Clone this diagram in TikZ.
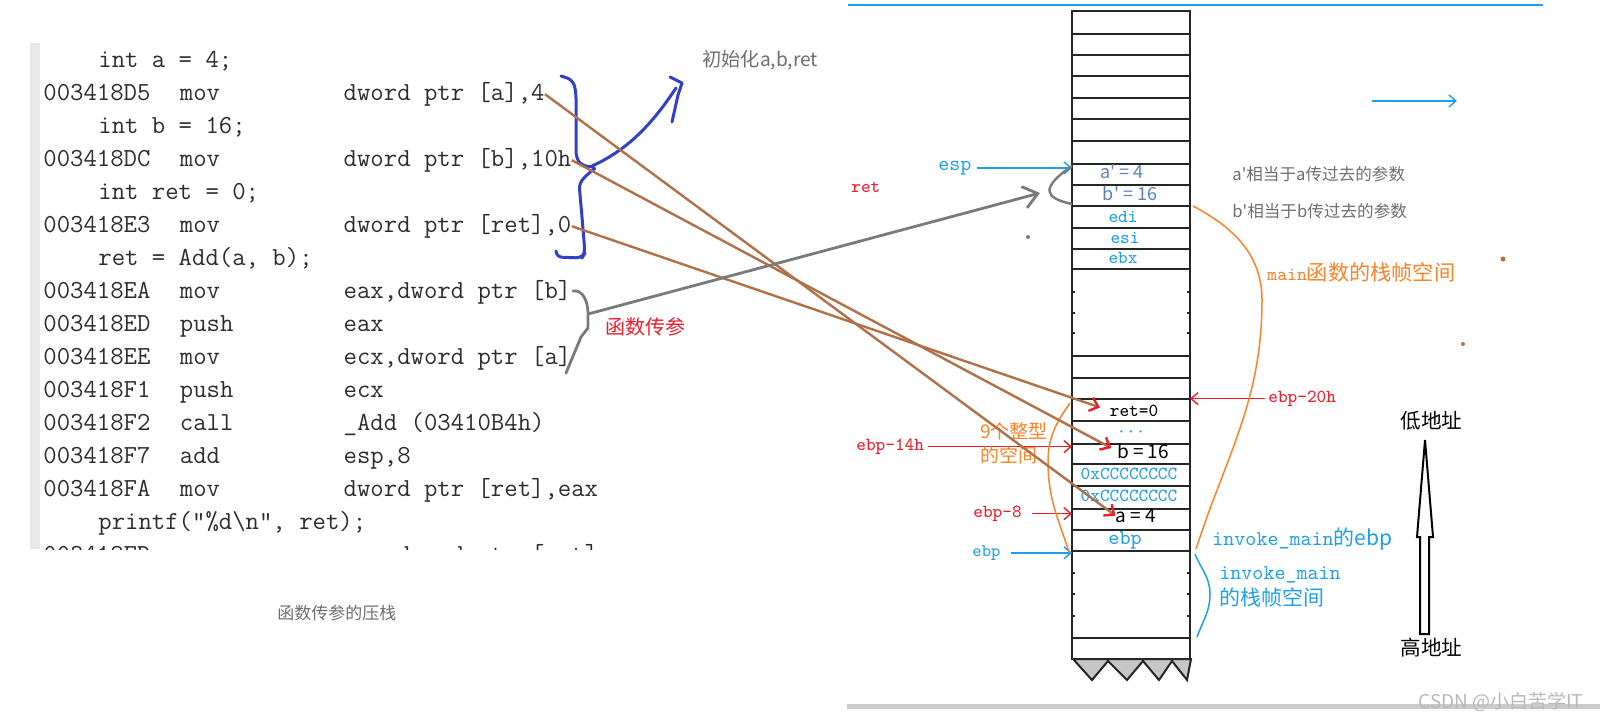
\documentclass[tikz,border=0pt]{standalone}
\usepackage{fontspec}
\newfontfamily\cjk{Noto Sans CJK SC}
\usetikzlibrary{arrows.meta}
\definecolor{cyanb}{RGB}{30,160,230}
\definecolor{steelb}{RGB}{90,130,190}
\definecolor{redl}{RGB}{235,30,40}
\definecolor{orangel}{RGB}{250,130,40}
\definecolor{brownl}{RGB}{176,112,72}
\definecolor{grayl}{RGB}{122,122,122}
\definecolor{penblue}{RGB}{50,64,200}
\definecolor{notegray}{RGB}{110,110,110}
\definecolor{codegray}{RGB}{45,45,45}
\tikzset{
  code/.style={anchor=mid west,inner sep=0pt,text=codegray,font=\ttfamily\fontsize{13}{15}\selectfont},
  cell/.style={inner sep=0pt,anchor=mid,font=\ttfamily\fontsize{9.2}{11}\selectfont},
  lbl/.style={inner sep=0pt,anchor=mid west,font=\ttfamily\fontsize{9.2}{11}\selectfont},
  note/.style={inner sep=0pt,anchor=mid west,text=notegray,font=\cjk\fontsize{8.3}{10}\selectfont},
  ptr/.style={line width=.7pt,-{Straight Barb[length=3.5pt,width=6pt]}},
  load/.style={draw=brownl,line width=1.2pt,-{Straight Barb[color=redl,length=4pt,width=7pt]}},
  pen/.style={draw=penblue,line width=1.5pt,line cap=round,line join=round},
  stk/.style={draw=black!85,line width=1pt}
}
\newcommand\asmrow[3]{\makebox[5.25em][l]{#1}\makebox[6.3em][l]{#2}#3}
\begin{document}
\begin{tikzpicture}[x=0.5pt,y=-0.5pt]
\useasboundingbox (0,0) rectangle (1600,722);
\fill[gray!18] (30,43) rectangle (40,549);
\node[code] (s0) at (98,63) {int a = 4;};
\node[code] (l1) at (43,96) {\asmrow{003418D5}{mov}{dword ptr [a],4}};
\node[code] (s1) at (98,129) {int b = 16;};
\node[code] (l3) at (43,162) {\asmrow{003418DC}{mov}{dword ptr [b],10h}};
\node[code] (s2) at (98,195) {int ret = 0;};
\node[code] (l5) at (43,228) {\asmrow{003418E3}{mov}{dword ptr [ret],0}};
\node[code] (s3) at (98,261) {ret = Add(a, b);};
\node[code] (l7) at (43,294) {\asmrow{003418EA}{mov}{eax,dword ptr [b]}};
\node[code] (l8) at (43,327) {\asmrow{003418ED}{push}{eax}};
\node[code] (l9) at (43,360) {\asmrow{003418EE}{mov}{ecx,dword ptr [a]}};
\node[code] (l10) at (43,393) {\asmrow{003418F1}{push}{ecx}};
\node[code] (l11) at (43,426) {\asmrow{003418F2}{call}{\_Add (03410B4h)}};
\node[code] (l12) at (43,459) {\asmrow{003418F7}{add}{esp,8}};
\node[code] (l13) at (43,492) {\asmrow{003418FA}{mov}{dword ptr [ret],eax}};
\node[code] (s4) at (98,525) {printf("\%d\textbackslash n", ret);};
\begin{scope}
\clip (40,541) rectangle (620,549);
\node[code] (l15) at (43,558) {\asmrow{003418FD}{mov}{eax,dword ptr [ret]}};
\end{scope}
\node[note,font=\cjk\fontsize{9.6}{11}\selectfont] (init) at (702,62) {初始化a,b,ret};
\node[note,text=redl,font=\cjk\fontsize{10}{12}\selectfont] (pass) at (605,330) {函数传参};
\node[note,font=\cjk\fontsize{8.5}{10}\selectfont] (cap) at (277,615) {函数传参的压栈};
\draw[pen,rounded corners=3pt] (561,76) -- (573,80) -- (576,92) -- (576,158) -- (582,166) -- (597,167) -- (590,172) -- (579,183) -- (582,217) -- (585,253) -- (582,258) -- (556,257) -- (556,252);
\draw[pen] (592,166) .. controls (632,148) and (656,118) .. (676,88);
\draw[pen] (670,77) -- (682,83) -- (678,95) -- (672,122);
\draw[cyanb,line width=.8pt] (848,5) -- (1543,5);
\draw[gray!40,line width=2.5pt] (847,706) -- (1600,706);
\draw[stk,fill=white] (1072,11) rectangle (1190,659);
\foreach \y in {34,55,76,98,119,141,164,185,206,228,249,269,356,378,399,421,444,464,486,509,530,551,638}
  \draw[stk] (1072,\y) -- (1190,\y);
\foreach \y in {292,313,333,573,594,616} {
  \draw[stk,line width=.6pt] (1072,\y) -- +(3,0);
  \draw[stk,line width=.6pt] (1190,\y) -- +(-3,0);
}
\filldraw[fill=gray!45,stk] (1073,659) -- (1092,680) -- (1108,661) -- (1127,680) -- (1143,661) -- (1159,680) -- (1172,661) -- (1187,680) -- (1191,659) -- cycle;
\coordinate (sl) at (1072,0);
\coordinate (sr) at (1190,0);
\node[cell,text=steelb,font=\cjk\fontsize{9}{11}\selectfont] (ap) at (1122,174) {a\textquotesingle{} = 4};
\node[cell,text=steelb,font=\cjk\fontsize{9}{11}\selectfont] (bp) at (1130,196) {b\textquotesingle{} = 16};
\node[cell,text=cyanb] (edi) at (1123,218) {edi};
\node[cell,text=cyanb] (esi) at (1125,239) {esi};
\node[cell,text=cyanb] (ebx) at (1123,259) {ebx};
\node[cell] (retv) at (1134,412) {ret=0};
\node[cell,text=cyanb] (dots) at (1131,433) {···};
\node[cell,font=\cjk\fontsize{9.5}{11}\selectfont] (bv) at (1143,454) {b = 16};
\node[cell,text=cyanb] (cc1) at (1129,475) {0xCCCCCCCC};
\node[cell,text=cyanb] (cc2) at (1129,497) {0xCCCCCCCC};
\node[cell,font=\cjk\fontsize{9.5}{11}\selectfont] (av) at (1136,518) {a = 4};
\node[cell,text=cyanb,font=\ttfamily\fontsize{10.5}{12}\selectfont] (ebpv) at (1125,540) {ebp};
\node[lbl,text=cyanb,font=\ttfamily\fontsize{10.5}{12}\selectfont] (esp) at (938,166) {esp};
\node[lbl,text=redl] (ret) at (851,188) {ret};
\node[lbl,text=redl] (e14) at (856,446) {ebp-14h};
\node[lbl,text=redl] (e8) at (973,513) {ebp-8};
\node[lbl,text=cyanb,font=\ttfamily\fontsize{8.9}{11}\selectfont] (ebpl) at (972,552) {ebp};
\node[lbl,text=redl] (e20) at (1268,398) {ebp-20h};
\draw[ptr,cyanb] (esp.east) ++(5,0) -- (esp.east -| sl);
\draw[ptr,redl] (e14.east) ++(4,0) -- (e14.east -| sl);
\draw[ptr,redl] (e8.east) ++(10,0) -- (e8.east -| sl);
\draw[ptr,cyanb] (ebpl.east) ++(10,0) -- (ebpl.east -| sl);
\draw[ptr,redl] (e20.west) ++(-3,0) -- (e20.west -| sr);
\node[note,text=orangel,font=\cjk\fontsize{9.5}{11}\selectfont] (nine) at (980,434) {9个整型};
\node[note,text=orangel,font=\cjk\fontsize{9.5}{11}\selectfont] (nine2) at (980,458) {的空间};
\draw[orangel,line width=.75pt] (1070,403) to[out=235,in=90] (1048,462) to[out=-90,in=108] (1069,552);
\draw[orangel,line width=.75pt] (1193,206) to[out=-28,in=90] (1262,300) to[out=-90,in=72] (1196,549);
\node[note,text=orangel,font=\cjk\fontsize{10.6}{12}\selectfont] (mainf) at (1267,276) {{\ttfamily\fontsize{9.4}{11}\selectfont main}函数的栈帧空间};
\node[note] (na) at (1232,176) {a\textquotesingle 相当于a传过去的参数};
\node[note] (nb) at (1232,213) {b\textquotesingle 相当于b传过去的参数};
\node[lbl,text=cyanb,font=\cjk\fontsize{10.5}{12}\selectfont] (inv) at (1212,541) {{\ttfamily invoke\_main}的ebp};
\draw[cyanb,line width=.75pt] (1195,554) to[out=-68,in=90] (1210,594) to[out=-90,in=70] (1197,637);
\node[lbl,text=cyanb,font=\cjk\fontsize{10.5}{12}\selectfont] (invs) at (1219,575) {{\ttfamily invoke\_main}};
\node[lbl,text=cyanb,font=\cjk\fontsize{10.5}{12}\selectfont] (invs2) at (1219,601) {的栈帧空间};
\coordinate (rs) at (1372,101);
\coordinate (re) at (1457,101);
\draw[ptr,cyanb] (rs) -- (re);
\node[note,text=black,font=\cjk\fontsize{10.3}{12}\selectfont] (low) at (1400,424) {低地址};
\node[note,text=black,font=\cjk\fontsize{10.3}{12}\selectfont] (high) at (1400,651) {高地址};
\draw[black,line width=1pt,fill=white] (1425,440) -- (1433,537) -- (1429,537) -- (1429,634) -- (1420,634) -- (1420,537) -- (1417,537) -- cycle;
\draw[load] (l1.east) -- (av.west);
\draw[load,shorten >=3pt] (l3.east) -- (bv.west);
\draw[load,shorten >=5pt] (l5.east) -- (retv.west);
\coordinate (brmid) at (588,314);
\coordinate (hook) at (1040,193);
\draw[grayl,line width=1.4pt,line cap=round] (573,291) to[out=10,in=90] (588,313) -- (588,328) -- (581,337) -- (566,373);
\draw[grayl,line width=1.4pt,-{Straight Barb[length=7pt,width=11pt]}] (brmid) -- (hook);
\draw[grayl,line width=1.2pt] (1072,166) .. controls (1040,188) and (1044,198) .. (1072,204);
\fill[grayl] (1028,237) circle (2);
\fill[brownl] (1503,259) circle (2.5);
\fill[brownl] (1463,344) circle (2);
\node[note,text=gray!55,font=\cjk\fontsize{9.5}{11}\selectfont] (wm) at (1418,704) {CSDN @小白苦学IT};
\end{tikzpicture}
\end{document}
